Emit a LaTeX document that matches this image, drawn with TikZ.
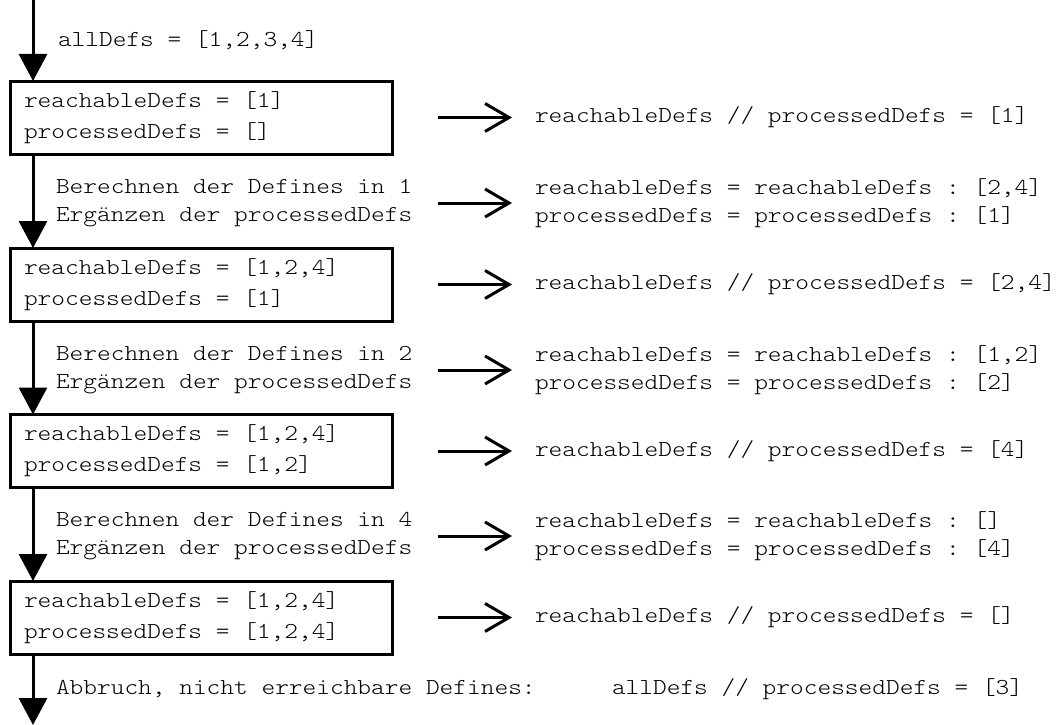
\documentclass[tikz,border=0pt]{standalone}
\usepackage{fontspec}
\setmonofont{lmmonolt10-regular.otf}[FakeStretch=1.145]
\usetikzlibrary{arrows.meta}
\begin{document}
\begin{tikzpicture}[x=1pt,y=-1pt,
  txt/.style={font=\ttfamily\fontsize{22.8pt}{28pt}\selectfont, inner sep=0pt, outer sep=0pt, anchor=west, align=left},
  boxtxt/.style={font=\ttfamily\fontsize{22.8pt}{31pt}\selectfont, inner sep=0pt, outer sep=0pt, anchor=west, align=left},
  statebox/.style={draw, line width=3pt, inner sep=0pt, minimum width=382pt, minimum height=73pt, outer sep=0pt, anchor=north west},
  flow/.style={line width=3pt, -{Triangle[length=27pt,width=28pt]}},
  res/.style={line width=3pt, -{Straight Barb[length=24pt,width=28pt]}}
]
\useasboundingbox (0,0) rectangle (1060,725);
\coordinate (top) at (33,0);
\coordinate (end) at (33,725);

\node[txt] (init) at (58,40) {allDefs = [1,2,3,4]};

\node[statebox] (b1) at (10,81) {};
\node[boxtxt] (t1) at ([xshift=14pt]b1.west) {reachableDefs = [1]\\processedDefs = []};
\node[txt] (r1) at (535,117.5) {reachableDefs // processedDefs = [1]};
\node[txt] (l1) at (56,203) {Berechnen der Defines in 1\\Ergänzen der processedDefs};
\node[txt] (u1) at (535,203) {reachableDefs = reachableDefs : [2,4]\\processedDefs = processedDefs : [1]};

\node[statebox] (b2) at (10,248) {};
\node[boxtxt] (t2) at ([xshift=14pt]b2.west) {reachableDefs = [1,2,4]\\processedDefs = [1]};
\node[txt] (r2) at (535,284.5) {reachableDefs // processedDefs = [2,4]};
\node[txt] (l2) at (56,370) {Berechnen der Defines in 2\\Ergänzen der processedDefs};
\node[txt] (u2) at (535,370) {reachableDefs = reachableDefs : [1,2]\\processedDefs = processedDefs : [2]};

\node[statebox] (b3) at (10,414.5) {};
\node[boxtxt] (t3) at ([xshift=14pt]b3.west) {reachableDefs = [1,2,4]\\processedDefs = [1,2]};
\node[txt] (r3) at (535,451) {reachableDefs // processedDefs = [4]};
\node[txt] (l3) at (56,536) {Berechnen der Defines in 4\\Ergänzen der processedDefs};
\node[txt] (u3) at (535,536) {reachableDefs = reachableDefs : []\\processedDefs = processedDefs : [4]};

\node[statebox] (b4) at (10,581) {};
\node[boxtxt] (t4) at ([xshift=14pt]b4.west) {reachableDefs = [1,2,4]\\processedDefs = [1,2,4]};
\node[txt] (r4) at (535,617.5) {reachableDefs // processedDefs = []};
\node[txt] (l4) at (56,689) {Abbruch, nicht erreichbare Defines:};
\node[txt] (fin) at (612,689) {allDefs // processedDefs = [3]};

\draw[flow] (top) -- (top |- b1.north);
\draw[flow] (top |- b1.south) -- (top |- b2.north);
\draw[flow] (top |- b2.south) -- (top |- b3.north);
\draw[flow] (top |- b3.south) -- (top |- b4.north);
\draw[flow] (top |- b4.south) -- (end);

\foreach \n in {r1,u1,r2,u2,r3,u3,r4}
  \draw[res] ([xshift=-97pt]\n.west) -- ([xshift=-23pt]\n.west);
\end{tikzpicture}
\end{document}
